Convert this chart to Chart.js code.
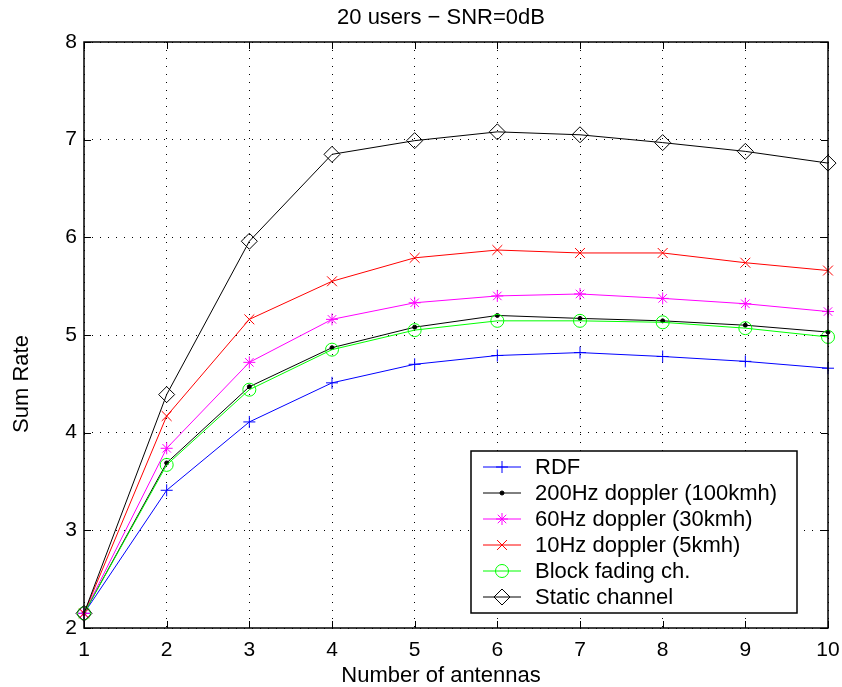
<!DOCTYPE html>
<html>
<head>
<meta charset="utf-8">
<title>20 users - SNR=0dB</title>
<script src="https://cdn.jsdelivr.net/npm/chart.js@4/dist/chart.umd.min.js"></script>
<style>
  html, body { margin: 0; padding: 0; background: #fff; }
  #wrap { width: 842px; height: 687px; }
</style>
</head>
<body>
<div id="wrap"><canvas id="chart" width="842" height="687"></canvas></div>
<script>
// data
const antennas = [1, 2, 3, 4, 5, 6, 7, 8, 9, 10];
const yTicks = [2, 3, 4, 5, 6, 7, 8];
const rdf      = [2.15, 3.41, 4.11, 4.51, 4.70, 4.79, 4.82, 4.78, 4.73, 4.66];
const dop200   = [2.15, 3.69, 4.47, 4.87, 5.08, 5.20, 5.17, 5.145, 5.10, 5.03];
const dop60    = [2.15, 3.84, 4.72, 5.16, 5.33, 5.40, 5.42, 5.375, 5.32, 5.24];
const dop10    = [2.15, 4.17, 5.16, 5.55, 5.79, 5.87, 5.84, 5.84, 5.74, 5.66];
const blockFad = [2.15, 3.67, 4.44, 4.85, 5.05, 5.145, 5.145, 5.13, 5.07, 4.98];
const staticCh = [2.15, 4.39, 5.96, 6.85, 6.99, 7.08, 7.05, 6.97, 6.88, 6.76];

const FONT = "'Liberation Sans', Arial, Helvetica, sans-serif";

function serie(label, values, color, style, radius, fill) {
    return {
        label: label,
        data: values.map((v, i) => ({ x: antennas[i], y: v })),
        borderColor: color,
        borderWidth: 1,
        pointStyle: style,
        pointRadius: radius,
        pointHoverRadius: radius,
        pointBorderWidth: 1,
        pointBorderColor: color,
        pointBackgroundColor: fill || "rgba(0,0,0,0)",
        tension: 0,
        clip: false
    };
}

const series = [
    serie("RDF", rdf, "#0000ff", "cross", 6),
    serie("200Hz doppler (100kmh)", dop200, "#000000", "circle", 2, "#000000"),
    serie("60Hz doppler (30kmh)", dop60, "#ff00ff", "star", 6),
    serie("10Hz doppler (5kmh)", dop10, "#ff0000", "crossRot", 7),
    serie("Block fading ch.", blockFad, "#00ff00", "circle", 6.5),
    serie("Static channel", staticCh, "#000000", "rectRot", 8)
];
// last plotted on top, like matlab
series.forEach((s, i) => s.order = series.length - i);

function marker(ctx, s, x, y) {
    ctx.strokeStyle = s.pointBorderColor;
    ctx.fillStyle = s.pointBackgroundColor;
    ctx.lineWidth = 1;
    Chart.helpers.drawPoint(ctx, { pointStyle: s.pointStyle, radius: s.pointRadius, rotation: 0, borderWidth: 1 }, x, y);
}

const decor = {
    id: "decor",
    afterDraw(chart) {
        const ctx = chart.ctx, a = chart.chartArea;
        const xs = chart.scales.x, ys = chart.scales.y;
        ctx.save();

        // inward tick marks
        ctx.strokeStyle = "#000";
        ctx.lineWidth = 1;
        ctx.beginPath();
        antennas.forEach(v => {
            const px = Math.round(xs.getPixelForValue(v)) + 0.5;
            ctx.moveTo(px, a.bottom); ctx.lineTo(px, a.bottom - 7);
            ctx.moveTo(px, a.top); ctx.lineTo(px, a.top + 7);
        });
        yTicks.forEach(v => {
            const py = Math.round(ys.getPixelForValue(v)) + 0.5;
            ctx.moveTo(a.left, py); ctx.lineTo(a.left + 7, py);
            ctx.moveTo(a.right, py); ctx.lineTo(a.right - 7, py);
        });
        ctx.stroke();

        // axes box
        ctx.lineWidth = 1.5;
        ctx.strokeRect(a.left, a.top, a.right - a.left, a.bottom - a.top);

        // titles
        ctx.fillStyle = "#000";
        ctx.textAlign = "center";
        ctx.textBaseline = "middle";
        ctx.font = "22px " + FONT;
        ctx.fillText("20 users \u2212 SNR=0dB", 441, 18);
        ctx.fillText("Number of antennas", 441, 676);
        ctx.save();
        ctx.translate(22, 384);
        ctx.rotate(-Math.PI / 2);
        ctx.fillText("Sum Rate", 0, 0);
        ctx.restore();

        // legend box inside the axes
        const bx = a.right - 357, by = a.bottom - 177, bw = 326, bh = 162;
        ctx.fillStyle = "#fff";
        ctx.fillRect(bx, by, bw, bh);
        ctx.strokeStyle = "#000";
        ctx.lineWidth = 1.5;
        ctx.strokeRect(bx, by, bw, bh);
        series.forEach((s, i) => {
            const ry = by + 16 + i * 26;
            ctx.strokeStyle = s.borderColor;
            ctx.lineWidth = 1;
            ctx.beginPath();
            ctx.moveTo(bx + 12, ry); ctx.lineTo(bx + 50, ry);
            ctx.stroke();
            marker(ctx, s, bx + 31, ry);
            ctx.fillStyle = "#000";
            ctx.textAlign = "left";
            ctx.textBaseline = "middle";
            ctx.font = "22px " + FONT;
            ctx.fillText(s.label, bx + 64, ry + 1);
        });
        ctx.restore();
    }
};

new Chart(document.getElementById("chart").getContext("2d"), {
    type: "line",
    data: { datasets: series },
    options: {
        responsive: false,
        animation: false,
        events: [],
        layout: { padding: { top: 42, right: 14, left: 0, bottom: 0 } },
        plugins: { legend: { display: false }, tooltip: { enabled: false }, title: { display: false } },
        scales: {
            x: {
                type: "linear",
                min: 1, max: 10,
                afterFit: s => { s.height = 59; s.paddingLeft = 0; s.paddingRight = 0; },
                afterBuildTicks: s => { s.ticks = antennas.map(v => ({ value: v })); },
                grid: { color: "#000", lineWidth: 1, drawTicks: false },
                border: { display: false, dash: [1, 7] },
                ticks: { color: "#000", font: { family: FONT, size: 21 }, padding: 10, maxRotation: 0 }
            },
            y: {
                min: 2, max: 8,
                afterFit: s => { s.width = 84; s.paddingTop = 0; s.paddingBottom = 0; },
                afterBuildTicks: s => { s.ticks = yTicks.map(v => ({ value: v })); },
                grid: { color: "#000", lineWidth: 1, drawTicks: false },
                border: { display: false, dash: [1, 7] },
                ticks: { color: "#000", font: { family: FONT, size: 21 }, padding: 7 }
            }
        }
    },
    plugins: [decor]
});
</script>
</body>
</html>
